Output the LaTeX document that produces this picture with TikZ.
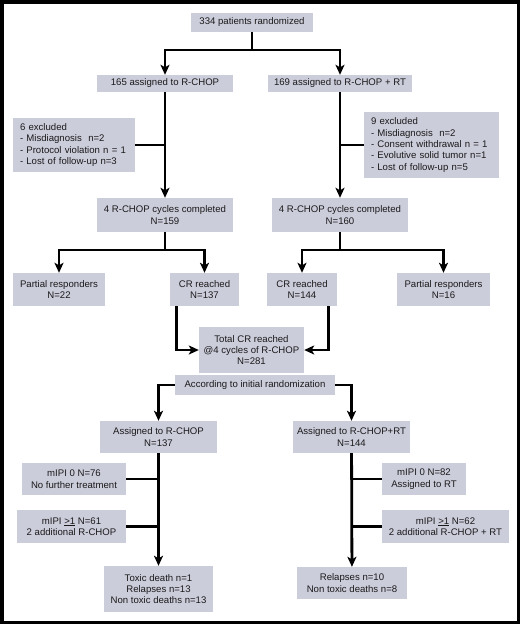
\documentclass[tikz,border=0pt]{standalone}
\usepackage{fontspec}
\setmainfont{Liberation Sans}
\usetikzlibrary{arrows.meta,positioning}
\definecolor{boxfill}{HTML}{CCCDDB}
\definecolor{ink}{HTML}{1A1A1A}
\begin{document}
\begin{tikzpicture}[x=1pt,y=-1pt,>={Stealth[length=10pt,width=9pt,inset=2.5pt]},
 box/.style={fill=boxfill,text=ink,align=center,inner sep=0pt,
  font=\fontsize{9.6}{11.4}\selectfont},
 listbox/.style={box,align=left,inner xsep=7pt},
 link/.style={line width=2.8pt,black}]
\useasboundingbox (0,0) rectangle (520,624);
\draw[line width=3.5pt] (1.75,1.75) rectangle (518.25,622.25);
\node[box,minimum width=122pt,minimum height=19pt] (top) at (252,22.5) {334 patients randomized};
\node[box,minimum width=136pt,minimum height=17pt] (armA) at (165,83.5) {165 assigned to R-CHOP};
\node[box,minimum width=144pt,minimum height=17pt] (armB) at (340,83.5) {169 assigned to R-CHOP + RT};
\node[listbox,text width=108pt,minimum height=54pt] (exclA) at (74,145)
 {6 excluded\\- Misdiagnosis~ n=2\\- Protocol violation n = 1\\- Lost of follow-up n=3};
\node[listbox,text width=121pt,minimum height=66pt] (exclB) at (431.5,145)
 {9 excluded\\- Misdiagnosis~ n=2\\- Consent withdrawal n = 1\\- Evolutive solid tumor n=1\\- Lost of follow-up n=5};
\node[box,minimum width=136pt,minimum height=34pt] (cycA) at (165,215) {4 R-CHOP cycles completed\\N=159};
\node[box,minimum width=136pt,minimum height=34pt] (cycB) at (340,215) {4 R-CHOP cycles completed\\N=160};
\node[box,minimum width=92pt,minimum height=33pt] (prA) at (59,289.5) {Partial responders\\N=22};
\node[box,minimum width=69pt,minimum height=33pt] (crA) at (204.5,289.5) {CR reached\\N=137};
\node[box,minimum width=70pt,minimum height=33pt] (crB) at (302,289.5) {CR reached\\N=144};
\node[box,minimum width=93pt,minimum height=33pt] (prB) at (443.5,289.5) {Partial responders\\N=16};
\node[box,minimum width=105pt,minimum height=46pt] (tot) at (251.5,350) {Total CR reached\\@4 cycles of R-CHOP\\N=281};
\node[box,minimum width=160pt,minimum height=20pt] (acc) at (255,385) {According to initial randomization};
\node[box,minimum width=117pt,minimum height=32pt] (asgA) at (158.5,437) {Assigned to R-CHOP\\N=137};
\node[box,minimum width=117pt,minimum height=32pt] (asgB) at (351.5,437) {Assigned to R-CHOP+RT\\N=144};
\node[box,minimum width=104pt,minimum height=32pt] (m0A) at (74,479) {mIPI 0 N=76\\No further treatment};
\node[box,minimum width=109pt,minimum height=33pt] (m1A) at (71.5,526.5) {mIPI \underline{>1} N=61\\2 additional R-CHOP};
\node[box,minimum width=109pt,minimum height=46pt] (outA) at (158.5,589) {Toxic death n=1\\Relapses n=13\\Non toxic deaths n=13};
\node[box,minimum width=84pt,minimum height=32pt] (m0B) at (424,479) {mIPI 0 N=82\\Assigned to RT};
\node[box,minimum width=127pt,minimum height=33pt] (m1B) at (445.5,526.5) {mIPI \underline{>1} N=62\\2 additional R-CHOP + RT};
\node[box,minimum width=110pt,minimum height=32pt] (outB) at (352,583) {Relapses n=10\\Non toxic deaths n=8};
\coordinate (s1) at (252,50);
\coordinate (s2) at (165,250);
\coordinate (s3) at (340,250);
\draw[link] (top) -- (s1);
\draw[link,->] (s1) -| (armA.north);
\draw[link,->] (s1) -| (armB.north);
\draw[link,->] (armA) -- (cycA);
\draw[link,->] (armB) -- (cycB);
\draw[link] (cycA) -- (s2);
\draw[link,->] (s2) -| (prA.north);
\draw[link,->] (s2) -| (crA.north);
\draw[link] (cycB) -- (s3);
\draw[link,->] (s3) -| (crB.north);
\draw[link,->] (s3) -| (prB.north);
\draw[link,->] ([xshift=7pt]crA.south west) |- (tot.west);
\draw[link,->] ([xshift=-9pt]crB.south east) |- (tot.east);
\draw[link,->] (acc.west) -| (asgA.north);
\draw[link,->] (acc.east) -| (asgB.north);
\draw[link,->] (asgA) -- (outA);
\draw[link,->] (asgB) -- (outB);
\foreach \b/\v in {exclA/armA,exclB/armB,m0A/asgA,m1A/asgA,m0B/asgB,m1B/asgB}
{\draw[link] (\b) -- (\b -| \v.south);}
\end{tikzpicture}
\end{document}
